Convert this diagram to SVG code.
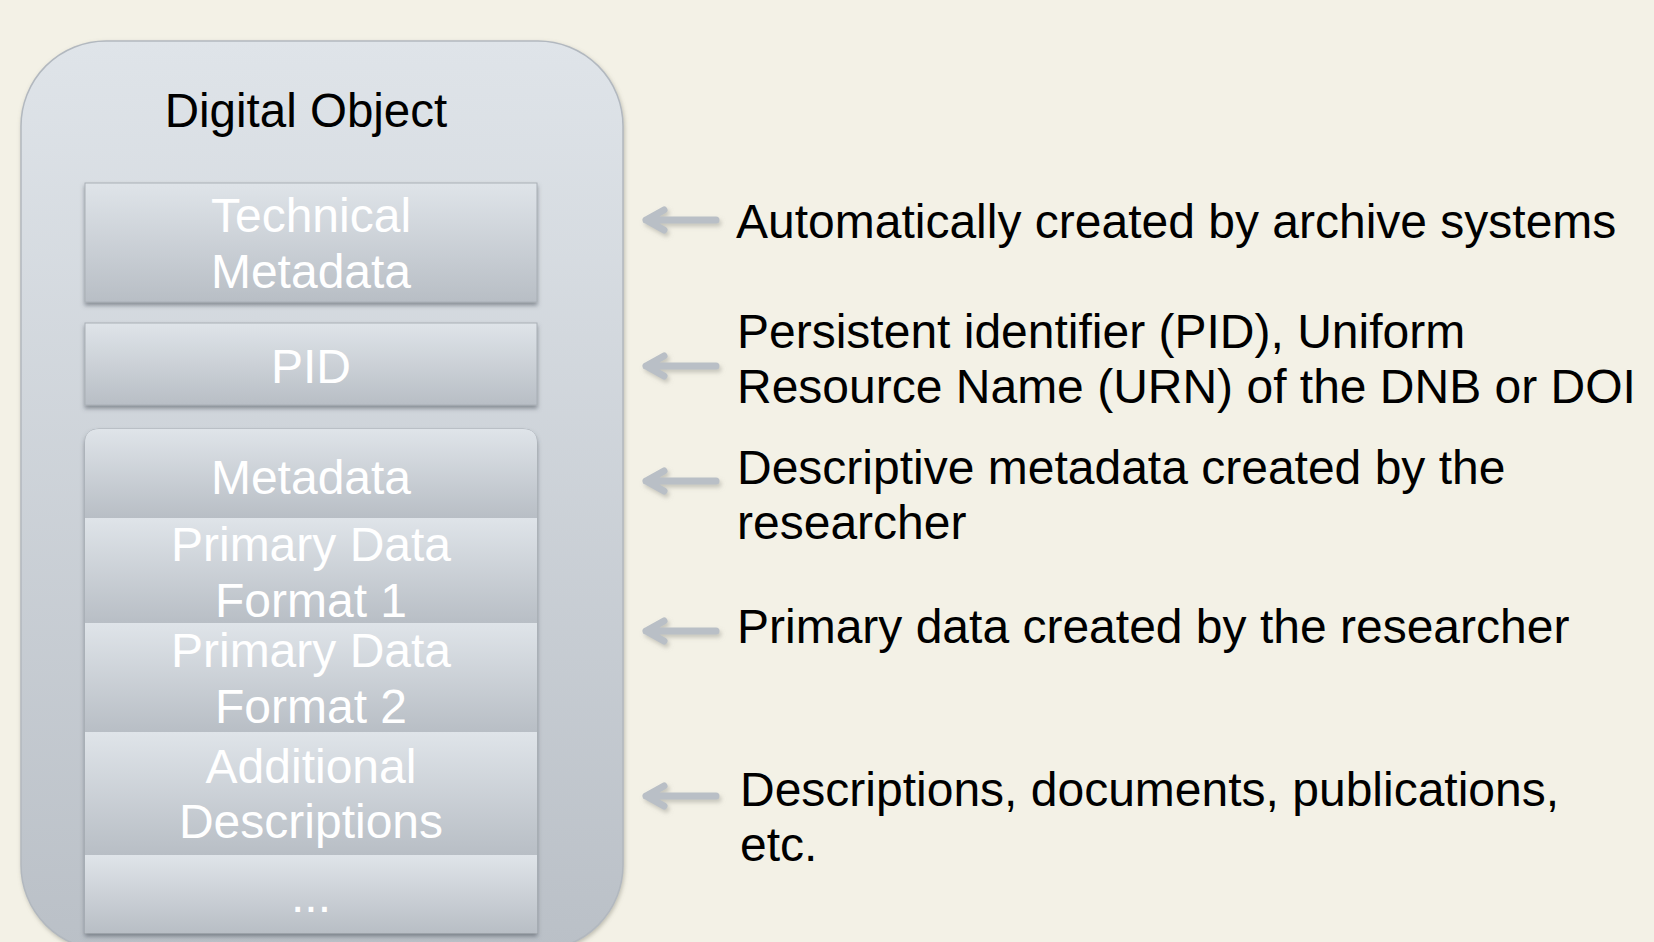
<svg xmlns="http://www.w3.org/2000/svg" width="1654" height="942" viewBox="0 0 1654 942">
  <defs>
    <linearGradient id="gOuter" x1="0" y1="0" x2="0" y2="1">
      <stop offset="0" stop-color="#dfe4e9"/>
      <stop offset="1" stop-color="#bac0c7"/>
    </linearGradient>
    <linearGradient id="gBand" x1="0" y1="0" x2="0" y2="1">
      <stop offset="0" stop-color="#dfe4e9"/>
      <stop offset="1" stop-color="#b8bec5"/>
    </linearGradient>
    <filter id="shOuter" x="-5%" y="-5%" width="110%" height="110%">
      <feDropShadow dx="1" dy="2" stdDeviation="2" flood-color="#7a7a70" flood-opacity="0.45"/>
    </filter>
    <filter id="shBox" x="-5%" y="-10%" width="110%" height="125%">
      <feDropShadow dx="0" dy="3" stdDeviation="2" flood-color="#4a5058" flood-opacity="0.55"/>
    </filter>
    <filter id="shArrow" x="-20%" y="-60%" width="140%" height="220%">
      <feDropShadow dx="2" dy="3" stdDeviation="2" flood-color="#9a9a90" flood-opacity="0.5"/>
    </filter>
    <clipPath id="stackClip">
      <path d="M85,443 Q85,429 99,429 H523 Q537,429 537,443 V933 H85 Z"/>
    </clipPath>
  </defs>
  <style>
    .box { fill: url(#gBand); stroke: #a9afb6; stroke-width: 1; }
    .band { fill: url(#gBand); }
    .inner { font-family: "Liberation Sans", Arial, sans-serif; font-size: 48px; fill: #ffffff; text-anchor: middle; }
    .title { font-family: "Liberation Sans", Arial, sans-serif; font-size: 47.5px; fill: #000000; text-anchor: middle; }
    .note { font-family: "Liberation Sans", Arial, sans-serif; font-size: 48px; fill: #000000; }
    .arrow { fill: none; stroke: #b9bfc6; stroke-width: 7; stroke-linecap: round; stroke-linejoin: round; }
  </style>

  <rect width="1654" height="942" fill="#f3f1e6"/>

  <!-- container -->
  <g id="digital-object">
    <rect x="21" y="41" width="602" height="909" rx="85" ry="85" fill="url(#gOuter)" stroke="#b2b8bf" stroke-width="1.5" filter="url(#shOuter)"/>
    <text class="title" x="306" y="127">Digital Object</text>
  </g>

  <g id="technical-metadata">
    <rect class="box" x="85" y="183" width="452" height="119" filter="url(#shBox)"/>
    <text class="inner" x="311" y="232">Technical</text>
    <text class="inner" x="311" y="288">Metadata</text>
  </g>

  <g id="pid">
    <rect class="box" x="85" y="323" width="452" height="82" filter="url(#shBox)"/>
    <text class="inner" x="311" y="383">PID</text>
  </g>

  <!-- stacked content package -->
  <g id="content-stack">
    <path d="M85,443 Q85,429 99,429 H523 Q537,429 537,443 V933 H85 Z" fill="#b8bec5" stroke="#a9afb6" stroke-width="1" filter="url(#shBox)"/>
    <g clip-path="url(#stackClip)">
      <rect class="band" x="85" y="429" width="452" height="89"/>
      <rect class="band" x="85" y="518" width="452" height="105"/>
      <rect class="band" x="85" y="623" width="452" height="109"/>
      <rect class="band" x="85" y="732" width="452" height="123"/>
      <rect class="band" x="85" y="855" width="452" height="78"/>
    </g>
    <g id="metadata">
      <text class="inner" x="311" y="494">Metadata</text>
    </g>
    <g id="primary-data-1">
      <text class="inner" x="311" y="561">Primary Data</text>
      <text class="inner" x="311" y="617">Format 1</text>
    </g>
    <g id="primary-data-2">
      <text class="inner" x="311" y="667">Primary Data</text>
      <text class="inner" x="311" y="723">Format 2</text>
    </g>
    <g id="additional-descriptions">
      <text class="inner" x="311" y="783">Additional</text>
      <text class="inner" x="311" y="838">Descriptions</text>
    </g>
    <g id="more">
      <text class="inner" x="311" y="912">...</text>
    </g>
  </g>

  <!-- pointers from the notes to the parts -->
  <g id="connectors" filter="url(#shArrow)">
    <path class="arrow" d="M716,220 H646 M664,210 L646,220 L664,230"/>
    <path class="arrow" d="M716,366 H646 M664,356 L646,366 L664,376"/>
    <path class="arrow" d="M716,481 H646 M664,471 L646,481 L664,491"/>
    <path class="arrow" d="M716,631 H646 M664,621 L646,631 L664,641"/>
    <path class="arrow" d="M716,796 H646 M664,786 L646,796 L664,806"/>
  </g>

  <g id="notes">
    <text class="note" x="736" y="238">Automatically created by archive systems</text>
    <text class="note" x="737" y="348">Persistent identifier (PID), Uniform</text>
    <text class="note" x="737" y="403">Resource Name (URN) of the DNB or DOI</text>
    <text class="note" x="737" y="484">Descriptive metadata created by the</text>
    <text class="note" x="737" y="539">researcher</text>
    <text class="note" x="737" y="643">Primary data created by the researcher</text>
    <text class="note" x="740" y="806">Descriptions, documents, publications,</text>
    <text class="note" x="740" y="861">etc.</text>
  </g>
</svg>
